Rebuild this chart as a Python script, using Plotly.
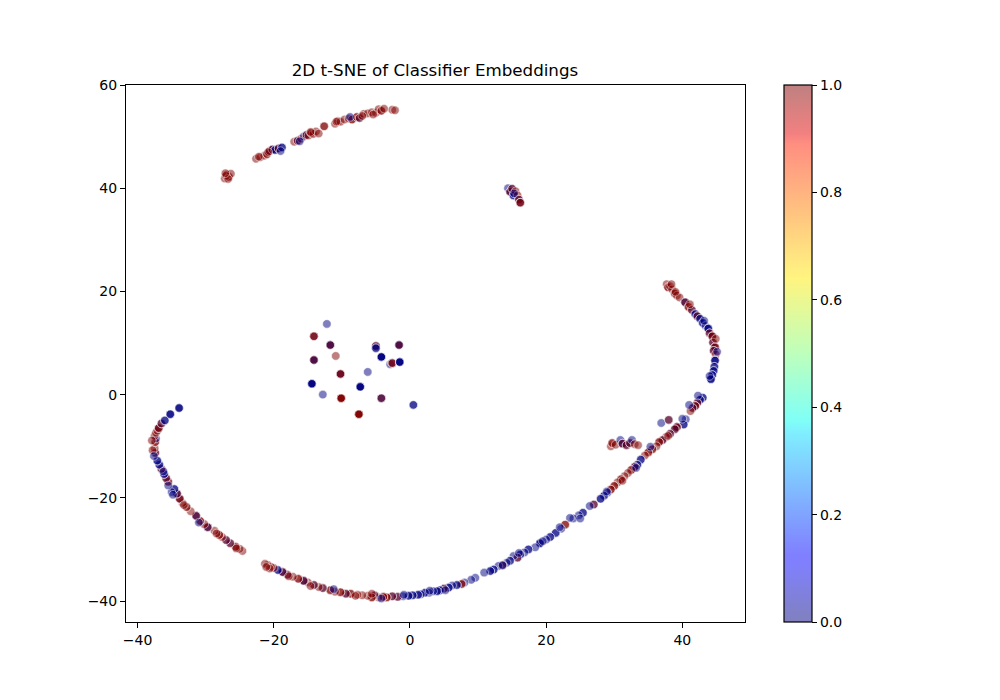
import plotly.graph_objects as go

# Each station: position, number of class-0 and class-1 embeddings stacked there
top_x = [-27.2,-26.9,-26.6,-26.3,-27.0,-22.6,-22.0,-21.4,-21.0,-20.6,-20.2,-19.8,-19.3,-18.8,-17.0,-16.5,-16.0,-15.6,-15.2,-14.9,-14.5,-14.2,-13.8,-12.6,-11.0,-10.6,-10.2,-9.6,-9.0,-8.5,-7.8,-7.4,-6.8,-6.2,-5.6,-5.0,-4.6,-4.2,-2.6,-2.2]
top_y = [41.9,42.6,42.2,42.8,42.4,45.7,46.0,46.3,46.6,47.2,47.5,47.4,47.7,47.9,49.0,49.2,49.6,50.0,50.3,50.2,50.7,50.5,51.0,52.0,52.5,53.0,52.9,53.3,53.5,53.3,53.8,53.6,54.4,54.5,54.7,54.6,55.3,55.0,55.2,55.1]
top_blue = [0,0,0,0,0,0,0,0,0,1,2,2,1,2,0,1,0,1,1,0,0,0,0,0,0,0,0,0,0,0,0,1,0,0,0,0,0,0,0,0]
top_red = [1,2,2,1,1,1,1,1,2,1,1,0,1,0,1,1,1,0,1,1,2,1,1,2,1,1,1,1,1,2,2,1,1,1,1,1,1,2,1,1]

isle_x = [14.4,14.7,15.0,15.2,15.5,15.8,16.0,16.2]
isle_y = [40.0,39.3,39.9,38.6,39.4,38.6,37.8,37.2]
isle_blue = [1,2,1,2,0,0,1,1]
isle_red = [0,1,1,0,1,1,1,2]

upper_x = [37.7,37.9,38.2,38.5,38.9,39.2,39.6,40.4,40.9,41.4,41.9,42.2,42.6,43.0,43.4,43.8,44.0,44.4,44.5,44.8,44.6,44.9,44.8,44.7,44.6,44.4,44.2]
upper_y = [21.4,20.8,21.0,20.4,19.6,19.2,18.8,17.9,17.0,16.4,15.6,15.2,14.7,13.9,13.3,12.8,11.9,11.3,10.1,9.2,8.5,7.8,6.6,5.4,4.6,3.8,3.0]
upper_blue = [0,0,0,0,0,0,0,2,0,1,2,1,2,2,1,3,1,1,1,1,1,0,3,2,2,2,3]
upper_red = [1,2,1,1,2,1,1,1,2,1,0,1,0,0,0,0,1,2,1,2,1,1,0,0,0,0,0]

lower_x = [43.0,42.6,42.2,41.9,41.5,41.2,40.5,40.2,39.2,38.9,38.2,37.6,37.1,36.6,36.2,35.6,35.0,34.5,33.9,33.4,33.0,32.5,32.0,31.5,31.0,30.5,30.0,29.5,29.0,28.5,28.0]
lower_y = [-0.6,-1.0,-1.6,-2.2,-2.6,-3.2,-4.8,-5.8,-6.3,-6.7,-7.6,-8.2,-8.8,-9.2,-10.0,-10.6,-11.2,-11.8,-12.6,-13.6,-14.0,-14.6,-15.2,-15.8,-16.4,-17.0,-17.7,-18.4,-19.0,-19.6,-20.2]
lower_blue = [2,2,1,1,1,0,1,2,2,1,1,0,1,0,0,0,0,0,2,2,1,0,0,0,0,0,0,0,1,2,2]
lower_red = [0,0,1,2,1,1,0,0,2,1,1,1,1,2,1,2,2,1,0,0,1,2,1,1,2,1,2,2,0,0,0]

side_x = [36.9,38.0,29.5,29.7,30.2,30.9,31.2,31.8,32.3,32.6,33.0,33.5]
side_y = [-5.5,-4.9,-10.0,-9.4,-9.7,-8.8,-9.5,-9.8,-9.4,-8.8,-9.6,-9.8]
side_blue = [1,1,0,0,0,1,2,1,1,1,0,0]
side_red = [0,1,1,2,1,0,1,1,1,0,1,1]

bottom_x = [27.0,26.4,25.4,24.8,24.0,23.5,22.8,22.2,21.4,20.6,20.0,19.1,18.4,17.4,16.8,16.2,15.8,15.2,14.7,14.2,13.6,13.0,12.3,11.8,9.6,9.0,8.0,7.6,6.9,6.2,5.7,5.0,4.4,4.0,3.4,2.8,2.2,1.6,1.2,0.4,-0.2,-1.0,-1.8,-2.6,-3.4,-3.9,-4.6,-5.2,-5.6,-6.2,-7.0,-7.7,-8.7,-9.4,-10.2,-11.0,-11.7,-12.8,-13.4,-14.1,-15.0,-15.6,-16.4,-17.2,-18.0,-18.7,-19.4,-20.0,-20.4,-20.9,-21.3]
bottom_y = [-21.3,-21.6,-22.9,-23.4,-24.0,-23.9,-25.2,-26.0,-26.8,-27.6,-28.1,-28.8,-29.6,-30.0,-30.6,-31.0,-31.6,-31.3,-32.2,-32.6,-33.0,-33.2,-33.9,-34.2,-35.5,-35.9,-36.4,-36.7,-36.9,-37.0,-37.4,-37.6,-37.9,-38.1,-38.1,-38.4,-38.4,-38.7,-38.8,-38.9,-39.0,-39.1,-39.2,-39.1,-39.3,-39.2,-39.3,-38.9,-39.3,-39.0,-38.9,-38.8,-38.6,-38.6,-38.3,-38.2,-37.9,-37.5,-37.3,-36.9,-36.4,-36.1,-35.7,-35.3,-34.9,-34.4,-34.0,-33.6,-33.4,-33.0,-32.8]
bottom_blue = [1,1,2,1,1,1,0,1,2,2,1,3,1,2,1,2,1,1,2,1,1,1,2,2,1,1,1,0,2,1,2,1,2,2,1,1,2,1,2,2,2,1,1,1,0,0,0,1,0,0,0,0,0,1,0,0,0,1,0,1,0,2,0,0,1,2,2,0,0,0,0]
bottom_red = [1,0,0,0,0,0,2,0,0,0,0,0,0,0,0,0,1,0,0,0,1,0,0,0,0,0,0,2,0,0,0,1,0,0,0,0,0,0,0,0,0,0,1,1,2,2,1,1,2,1,1,1,2,1,2,1,2,1,1,1,1,1,2,1,1,1,0,1,1,1,1]

left_x = [-24.6,-25.0,-25.6,-26.4,-27.0,-27.6,-28.0,-28.7,-29.7,-30.2,-30.8,-31.4,-32.2,-32.8,-33.4,-33.8,-34.2,-34.6,-35.0,-35.5,-35.8,-36.1,-36.5,-36.8,-37.1,-37.4,-37.5,-37.4,-37.3,-37.5,-37.3,-37.1,-36.9,-36.5,-36.0,-35.2,-33.9]
left_y = [-30.3,-29.9,-29.5,-28.8,-28.2,-27.6,-27.2,-26.4,-25.7,-25.1,-24.5,-23.5,-22.6,-21.8,-21.0,-20.2,-19.2,-18.3,-18.9,-16.9,-16.2,-15.4,-14.4,-13.6,-12.8,-11.3,-10.4,-9.2,-8.5,-8.0,-7.4,-7.0,-6.5,-5.6,-5.0,-3.8,-2.6]
left_blue = [0,0,0,1,1,0,0,0,2,0,0,2,0,0,0,1,2,2,1,0,1,2,1,2,2,1,0,0,1,0,0,0,1,1,2,3,3]
left_red = [1,1,2,1,1,1,2,1,1,1,2,1,1,2,1,2,1,0,0,2,1,0,1,0,0,1,1,2,0,1,1,1,2,1,0,0,0]

centre_x = [-12.2,-14.1,-11.7,-10.9,-14.1,-10.2,-6.2,-14.4,-7.3,-12.8,-10.1,-4.2,-7.5,0.5,-5.0,-5.0,-1.6,-4.2,-2.9,-2.6,-1.5]
centre_y = [13.7,11.3,9.6,7.5,6.7,4.0,4.4,2.1,1.5,0.0,-0.7,-0.7,-3.8,-2.0,9.4,9.0,9.6,7.3,5.9,6.1,6.3]
centre_blue = [1,1,3,0,3,2,1,5,5,1,0,2,0,2,2,2,3,5,1,1,5]
centre_red = [0,2,1,1,1,2,0,0,0,0,5,1,5,0,1,0,1,0,0,2,0]

# Faint single embeddings lying just off the main curves
halo_x = [-26.7,-27.1,-22.2,-20.8,-19.0,-16.2,-14.6,-13.4,-10.8,-8.8,-7.0,-5.4,-3.8,15.3,38.4,39.0,41.1,43.2,44.9,45.1,44.0,42.3,41.0,40.0,37.9,35.3,33.2,31.2,28.9,25.0,22.0,19.5,16.0,13.6,10.9,5.2,2.9,-0.9,-4.2,-5.6,-8.0,-11.2,-14.6,-17.8,-20.6,-21.1,-25.5,-28.4,-31.0,-33.2,-34.8,-36.2,-37.8,-37.9,-37.6,-35.5]
halo_y = [41.8,42.9,46.1,47.0,47.2,49.1,50.9,50.6,52.9,53.8,54.0,54.3,55.4,39.0,21.4,19.9,17.5,14.3,10.8,8.3,3.6,-0.2,-2.0,-4.7,-8.0,-10.1,-14.2,-16.7,-18.8,-24.0,-25.7,-28.4,-30.7,-33.1,-34.5,-37.9,-38.0,-38.8,-39.5,-38.6,-39.0,-37.7,-37.1,-35.2,-33.7,-33.4,-29.8,-26.9,-24.8,-21.4,-19.4,-14.9,-10.8,-8.9,-11.9,-17.6]
halo_blue = [0,0,0,0,1,1,0,0,0,1,0,0,0,1,0,0,0,1,0,1,1,1,1,1,0,1,1,0,1,1,1,1,1,1,1,1,1,1,1,0,0,1,0,0,0,0,0,0,1,0,1,1,0,0,1,1]
halo_red = [1,1,1,1,0,0,1,1,1,0,1,1,1,0,1,1,1,0,1,0,0,0,0,0,1,0,0,1,0,0,0,0,0,0,0,0,0,0,0,1,1,0,1,1,1,1,1,1,0,1,0,0,1,1,0,0]

groups = [
    (top_x, top_y, top_blue, top_red),
    (isle_x, isle_y, isle_blue, isle_red),
    (upper_x, upper_y, upper_blue, upper_red),
    (lower_x, lower_y, lower_blue, lower_red),
    (side_x, side_y, side_blue, side_red),
    (bottom_x, bottom_y, bottom_blue, bottom_red),
    (left_x, left_y, left_blue, left_red),
    (centre_x, centre_y, centre_blue, centre_red),
    (halo_x, halo_y, halo_blue, halo_red),
]

xs, ys, cs = [], [], []
for gx, gy, gb, gr in groups:
    for px, py, nb, nr in zip(gx, gy, gb, gr):
        for _ in range(nb):
            xs.append(px); ys.append(py); cs.append(0)
        for _ in range(nr):
            xs.append(px); ys.append(py); cs.append(1)

jet_alpha = [
    [0.0, "rgba(0,0,127,0.5)"],
    [0.11, "rgba(0,0,255,0.5)"],
    [0.125, "rgba(0,0,255,0.5)"],
    [0.35, "rgba(0,219,255,0.5)"],
    [0.375, "rgba(0,255,240,0.5)"],
    [0.5, "rgba(124,255,121,0.5)"],
    [0.64, "rgba(255,234,0,0.5)"],
    [0.66, "rgba(255,220,0,0.5)"],
    [0.89, "rgba(255,30,0,0.5)"],
    [0.91, "rgba(230,0,0,0.5)"],
    [1.0, "rgba(127,0,0,0.5)"],
]

fig = go.Figure(go.Scatter(
    x=xs, y=ys, mode="markers",
    marker=dict(
        size=8.5, color=cs, cmin=0, cmax=1, colorscale=jet_alpha,
        line=dict(color="rgba(255,255,255,0.5)", width=1),
        colorbar=dict(
            thickness=28, len=1, lenmode="fraction", x=1.063, xanchor="left",
            y=0.5, yanchor="middle", xpad=0, ypad=0,
            tick0=0, dtick=0.2, tickformat=".1f", ticks="outside", ticklen=5,
            tickwidth=1, tickcolor="black", outlinecolor="black", outlinewidth=1.2,
            tickfont=dict(family="DejaVu Sans", size=14, color="black"),
        ),
    ),
    hoverinfo="skip",
))

axis = dict(
    showgrid=False, zeroline=False, showline=True, linecolor="black", linewidth=1,
    mirror=True, ticks="outside", ticklen=5, tickwidth=1, tickcolor="black",
    tickfont=dict(family="DejaVu Sans", size=14, color="black"),
)
fig.update_layout(
    width=992, height=692, plot_bgcolor="white", paper_bgcolor="white",
    margin=dict(l=118, r=255, t=77, b=78), showlegend=False,
    title=dict(text="2D t-SNE of Classifier Embeddings", x=427 / 992, xanchor="center",
               y=1 - 62 / 692, yanchor="middle",
               font=dict(family="DejaVu Sans", size=16.7, color="black")),
    font=dict(family="DejaVu Sans", color="black"),
    xaxis=dict(axis, range=[-41.7, 49.2], tick0=-40, dtick=20, tickformat="d"),
    yaxis=dict(axis, range=[-44.07, 60], tick0=-40, dtick=20, tickformat="d"),
)
fig.write_html("out.html")
